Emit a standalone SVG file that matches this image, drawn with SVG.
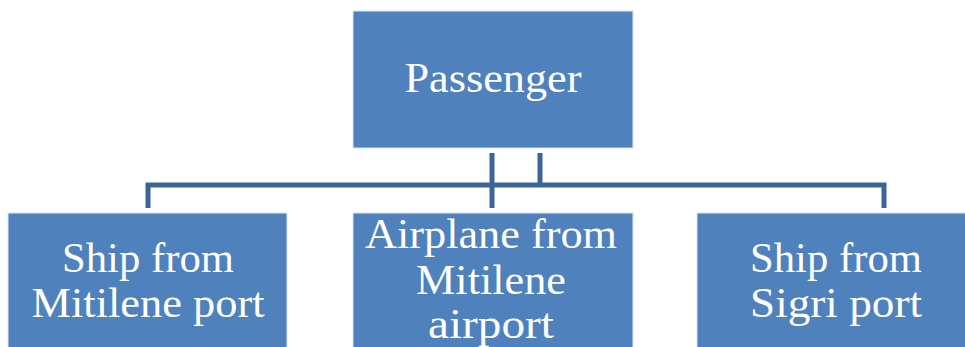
<svg xmlns="http://www.w3.org/2000/svg" width="965" height="347" viewBox="0 0 965 347">
<style>
.box{fill:#4F81BD;stroke:#DCE6F2;stroke-width:1}
.lbl{font-family:"Liberation Serif",serif;font-size:42px;fill:#FFFFFF;text-anchor:middle}
.conn{fill:none;stroke:#3C6597;stroke-width:5;stroke-linejoin:miter}
</style>
<rect width="965" height="347" fill="#FFFFFF"/>
<g id="connectors">
<path class="conn" d="M540,153 V185 M148,208 V185 H884 V208"/>
<path class="conn" d="M492,153 V208"/>
</g>
<g id="passenger">
<rect class="box" x="353" y="11" width="280" height="137"/>
<text class="lbl" x="493" y="92" textLength="177" lengthAdjust="spacingAndGlyphs">Passenger</text>
</g>
<g id="ship-mitilene">
<rect class="box" x="8" y="213" width="279" height="140"/>
<text class="lbl" x="148" y="272" textLength="172" lengthAdjust="spacingAndGlyphs">Ship from</text>
<text class="lbl" x="148" y="317" textLength="233" lengthAdjust="spacingAndGlyphs">Mitilene port</text>
</g>
<g id="airplane-mitilene">
<rect class="box" x="353" y="213" width="280" height="140"/>
<text class="lbl" x="491" y="248" textLength="252" lengthAdjust="spacingAndGlyphs">Airplane from</text>
<text class="lbl" x="491" y="294" textLength="150" lengthAdjust="spacingAndGlyphs">Mitilene</text>
<text class="lbl" x="491" y="338" textLength="126" lengthAdjust="spacingAndGlyphs">airport</text>
</g>
<g id="ship-sigri">
<rect class="box" x="697" y="213" width="280" height="140"/>
<text class="lbl" x="836" y="272" textLength="172" lengthAdjust="spacingAndGlyphs">Ship from</text>
<text class="lbl" x="836" y="317" textLength="172" lengthAdjust="spacingAndGlyphs">Sigri port</text>
</g>
</svg>
